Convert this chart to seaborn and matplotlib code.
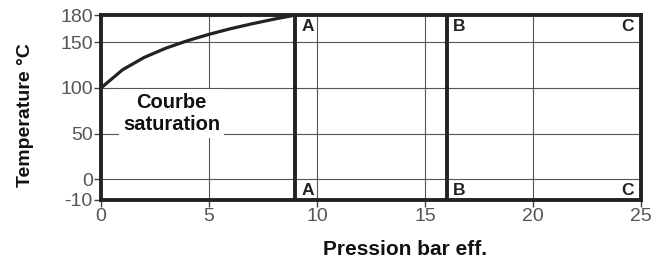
import numpy as np
import pandas as pd
import matplotlib
matplotlib.use("Agg")
import matplotlib.pyplot as plt
import seaborn as sns

# Data
pressure = [0, 1, 2, 3, 4, 5, 6, 7, 8, 9]
temperature = [100, 120, 133.5, 143.6, 151.8, 158.8, 165.0, 170.4, 175.4, 179.9]
zone_bounds = [9, 16, 25]
zone_labels = ["A", "B", "C"]
x_ticks = [0, 5, 10, 15, 20, 25]
y_ticks = [-10, 0, 50, 100, 150, 180]
curve_label = "Courbe\nsaturation"

sns.set_style("white")
plt.rcParams['font.family'] = ['Liberation Sans', 'DejaVu Sans']

fig = plt.figure(figsize=(6.53, 2.66), dpi=100)
ax = fig.add_axes([101/653, 66/266, 540/653, 185/266])

NEG = 2.28
def fwd(y):
    y = np.asarray(y, dtype=float)
    return np.where(y < 0, y * NEG, y)
def inv(y):
    y = np.asarray(y, dtype=float)
    return np.where(y < 0, y / NEG, y)
ax.set_yscale('function', functions=(fwd, inv))

df = pd.DataFrame({"p": pressure, "t": temperature})
sns.lineplot(data=df, x="p", y="t", ax=ax, color="#222222", lw=2.3, zorder=4)

ax.set_xlim(0, 25)
ax.set_ylim(-10, 180)
ax.set_xticks(x_ticks)
ax.set_yticks(y_ticks)
ax.set_xticklabels([str(v) for v in x_ticks])
ax.set_yticklabels([str(v) for v in y_ticks])
ax.tick_params(axis='both', labelsize=14, labelcolor="#555555", color="#444444",
               length=5, width=1, direction='out', left=True, bottom=True, pad=1)
ax.tick_params(axis='x', pad=1)

# grid
for xv in x_ticks[1:-1]:
    ax.axvline(xv, color="#555555", lw=0.8, zorder=1)
for yv in [0, 50, 100, 150]:
    ax.axhline(yv, color="#555555", lw=0.8, zorder=1)

for s in ax.spines.values():
    s.set_linewidth(2.8)
    s.set_color("#222222")

# zone lines and labels
for b, lab in zip(zone_bounds, zone_labels):
    if b < 25:
        ax.axvline(b, color="#222222", lw=2.8, zorder=3)
        ha = 'left'
        xpos = b + 0.28
    else:
        ha = 'right'
        xpos = b - 0.35
    ax.text(xpos, 167, lab, ha=ha, va='center', fontsize=12.5, fontweight='bold', color="#222222", zorder=5)
    ax.text(xpos, -5.6, lab, ha=ha, va='center', fontsize=12.5, fontweight='bold', color="#222222", zorder=5)

ax.text(3.26, 72, curve_label, ha='center', va='center', fontsize=14.5, fontweight='bold',
        color="#111111", linespacing=1.15, zorder=5,
        bbox=dict(facecolor='white', edgecolor='none', pad=3))

ax.set_xlabel("Pression bar eff.", fontsize=15, fontweight='bold', color="#111111")
ax.set_ylabel("Temperature °C", fontsize=14, fontweight='bold', color="#111111")
ax.xaxis.set_label_coords((405-101)/540, -(240-200)/185)
ax.yaxis.set_label_coords(-(101-34)/540, (200-115)/185)

fig.savefig("out.png", dpi=100, facecolor='white')
